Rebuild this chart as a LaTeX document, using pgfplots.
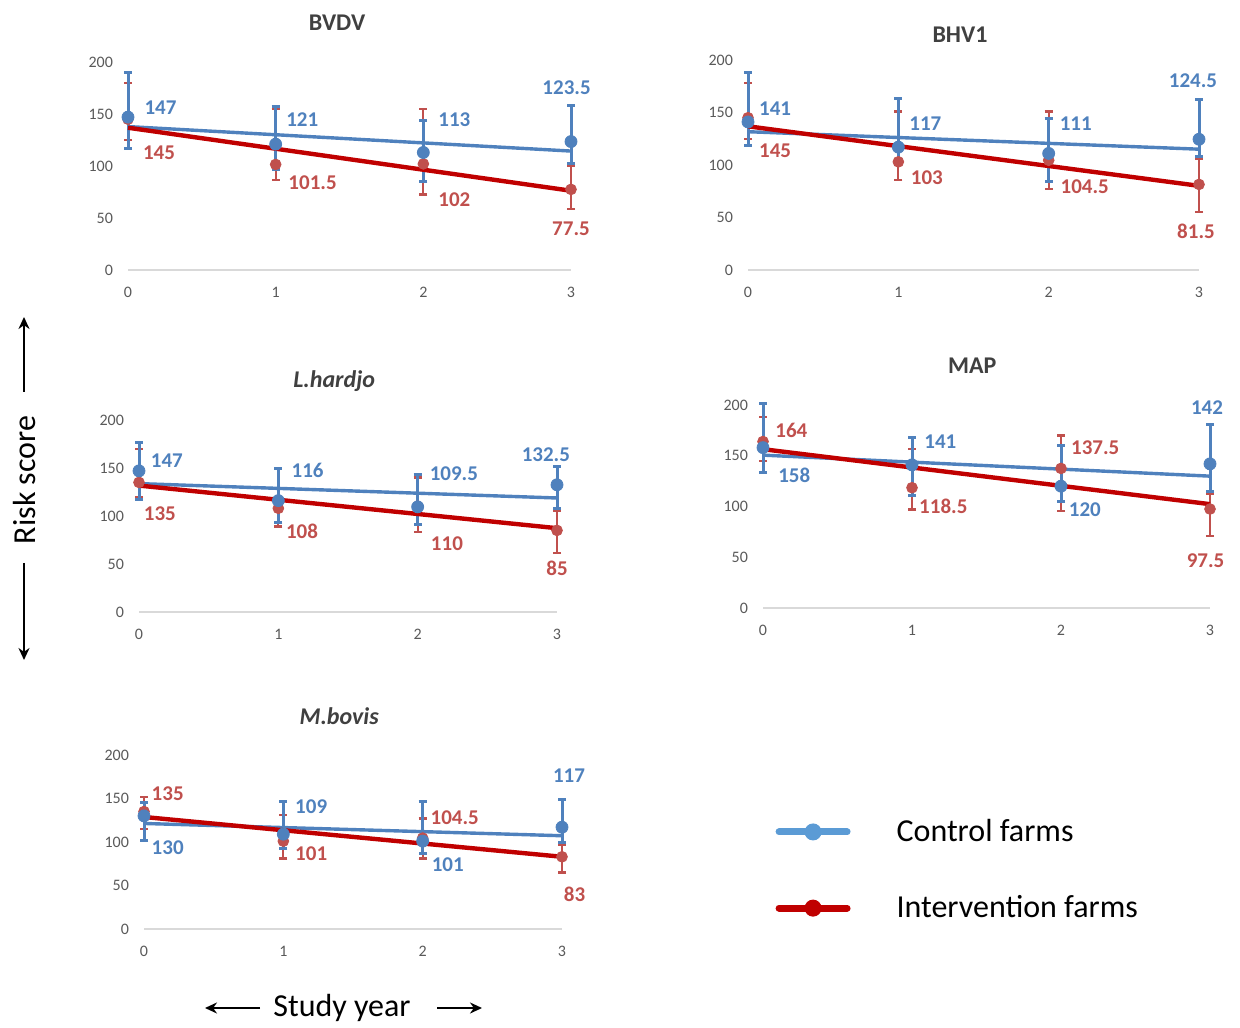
\documentclass[border=0pt]{standalone}
\usepackage{fontspec}
\setmainfont{Carlito}
\usepackage{pgfplots}
\usepackage{pgfplotstable}
\usetikzlibrary{arrows.meta}
\pgfplotsset{compat=1.18}
\definecolor{cblue}{HTML}{4F81BD}
\definecolor{cred}{HTML}{C0504D}
\definecolor{tred}{HTML}{C00000}
\definecolor{lblue}{HTML}{5B9BD5}
\definecolor{tgray}{HTML}{404040}
\definecolor{kgray}{HTML}{595959}
\definecolor{agray}{HTML}{D9D9D9}

\tikzset{
 vb/.style={font=\fontsize{10.5}{12}\selectfont\bfseries, text=cblue},
 vr/.style={font=\fontsize{10.5}{12}\selectfont\bfseries, text=cred},
}
\pgfplotsset{
 panel/.style={
  scale only axis, xmin=0, xmax=3, ymin=0, ymax=200, clip=false,
  axis x line=bottom, axis y line=left,
  x axis line style={agray, line width=0.8pt, -},
  y axis line style={draw=none},
  xtick={0,1,2,3}, ytick={0,50,...,200},
  major tick length=0pt,
  tick label style={font=\fontsize{8}{9}\selectfont, text=kgray},
  /pgf/number format/assume math mode=true,
  xticklabel style={yshift=-5pt},
  yticklabel style={xshift=-4pt},
  every axis title shift=0pt,
  title style={font=\fontsize{12}{14}\selectfont\bfseries, text=tgray, anchor=center},
 },
 ctrl/.style={cblue, only marks, mark=*, mark size=3pt, mark options={fill=cblue, draw=cblue, line width=0.4pt},
   error bars/.cd, y dir=both, y explicit,
   error bar style={line width=1.5pt, cblue},
   error mark options={rotate=90, mark size=2pt, line width=1.5pt, cblue},
   /pgfplots/.cd},
 intv/.style={cred, only marks, mark=*, mark size=2.7pt, mark options={fill=cred, draw=cred, line width=0.4pt},
   error bars/.cd, y dir=both, y explicit,
   error bar style={line width=1.1pt, cred},
   error mark options={rotate=90, mark size=2pt, line width=1.1pt, cred},
   /pgfplots/.cd},
 ctrend/.style={cblue, line width=1.7pt, no marks},
 itrend/.style={tred, line width=2.2pt, no marks},
}

% x  y  error-plus  error-minus
\pgfplotstableread{
x y ep em
0 147 43 30
1 121 36 24
2 113 30.5 27.5
3 123.5 34.5 21
}\bvdvC
\pgfplotstableread{
x y ep em
0 145 35 20
1 101.5 53.5 15
2 102 53 29.5
3 77.5 22.5 19
}\bvdvI
\pgfplotstableread{
x y ep em
0 141 47 22
1 117 46.5 12
2 111 33.5 27
3 124.5 38 16.5
}\bhvC
\pgfplotstableread{
x y ep em
0 145 33 20
1 103 48 17
2 104.5 46.5 27.5
3 81.5 24.5 26
}\bhvI
\pgfplotstableread{
x y ep em
0 147 29.5 30
1 116 33 23
2 109.5 33.5 18.5
3 132.5 19.5 24.5
}\lhC
\pgfplotstableread{
x y ep em
0 135 34.5 15
1 108 41 19
2 110 30 27
3 85 20 23.5
}\lhI
\pgfplotstableread{
x y ep em
0 158 43 25
1 141 27 30.5
2 120 40 15.5
3 142 39 27
}\mapC
\pgfplotstableread{
x y ep em
0 164 24 19
1 118.5 38 21.5
2 137.5 32.5 42
3 97.5 14.5 26.5
}\mapI
\pgfplotstableread{
x y ep em
0 130 15 28
1 109 37 16
2 101 45 14
3 117 32 18
}\mbC
\pgfplotstableread{
x y ep em
0 135 17 20
1 101 30 20
2 104.5 22.5 23.5
3 83 13.5 18
}\mbI

\newcommand{\series}[2]{%
  \addplot[forget plot, intv] table[x=x, y=y, y error plus=ep, y error minus=em]{#2};
  \addplot[forget plot, ctrl] table[x=x, y=y, y error plus=ep, y error minus=em]{#1};
  \addplot[forget plot, ctrend] table[x=x, y={create col/linear regression={y=y}}]{#1};
  \addplot[forget plot, itrend] table[x=x, y={create col/linear regression={y=y}}]{#2};
}

\begin{document}
\begin{tikzpicture}
\path[use as bounding box] (0pt,0pt) rectangle (620pt,513.5pt);

% BVDV
\begin{axis}[panel, at={(64pt,378.5pt)}, anchor=south west, width=221.5pt, height=104pt,
  title={BVDV}, title style={at={(0.472,1.19)}}]
\series{\bvdvC}{\bvdvI}
\node[vb] at (axis cs:0.22,156) {147};
\node[vr] at (axis cs:0.21,113) {145};
\node[vb] at (axis cs:1.18,145) {121};
\node[vr] at (axis cs:1.25,84) {101.5};
\node[vb] at (axis cs:2.21,145) {113};
\node[vr] at (axis cs:2.21,68) {102};
\node[vb] at (axis cs:2.97,175) {123.5};
\node[vr] at (axis cs:3.0,40) {77.5};
\end{axis}

% BHV1
\begin{axis}[panel, at={(374pt,378.5pt)}, anchor=south west, width=225.5pt, height=105pt,
  title={BHV1}, title style={at={(0.47,1.12)}}]
\series{\bhvC}{\bhvI}
\node[vb] at (axis cs:0.18,154) {141};
\node[vr] at (axis cs:0.18,114) {145};
\node[vb] at (axis cs:1.18,139) {117};
\node[vr] at (axis cs:1.19,88) {103};
\node[vb] at (axis cs:2.18,139) {111};
\node[vr] at (axis cs:2.24,79) {104.5};
\node[vb] at (axis cs:2.96,180) {124.5};
\node[vr] at (axis cs:2.98,37) {81.5};
\end{axis}

% L.hardjo
\begin{axis}[panel, at={(69.5pt,207.5pt)}, anchor=south west, width=209pt, height=96pt,
  title={\textit{L.hardjo}}, title style={at={(0.467,1.203)}}]
\series{\lhC}{\lhI}
\node[vb] at (axis cs:0.2,158) {147};
\node[vr] at (axis cs:0.15,102) {135};
\node[vb] at (axis cs:1.21,147) {116};
\node[vr] at (axis cs:1.17,84) {108};
\node[vb] at (axis cs:2.26,144) {109.5};
\node[vr] at (axis cs:2.21,71) {110};
\node[vb] at (axis cs:2.92,163.5) {132.5};
\node[vr] at (axis cs:3.0,46) {85};
\end{axis}

% MAP
\begin{axis}[panel, at={(381.5pt,209.5pt)}, anchor=south west, width=223.5pt, height=101.5pt,
  title={MAP}, title style={at={(0.468,1.192)}}]
\series{\mapC}{\mapI}
\node[vr] at (axis cs:0.19,175) {164};
\node[vb] at (axis cs:0.21,131) {158};
\node[vb] at (axis cs:1.19,163.5) {141};
\node[vr] at (axis cs:1.21,100.5) {118.5};
\node[vr] at (axis cs:2.23,157.5) {137.5};
\node[vb] at (axis cs:2.16,96.5) {120};
\node[vb] at (axis cs:2.98,197) {142};
\node[vr] at (axis cs:2.97,47) {97.5};
\end{axis}

% M.bovis (with legend)
\begin{axis}[panel, at={(72pt,49pt)}, anchor=south west, width=209pt, height=87pt,
  title={\textit{M.bovis}}, title style={at={(0.467,1.224)}},
  legend style={at={(1.51,0.339)}, anchor=west, draw=none, fill=none, inner sep=0pt,
    font=\fontsize{16}{18}\selectfont, row sep=25.5pt,
    nodes={inner sep=0pt, text=black},
    /tikz/every odd column/.append style={column sep=23pt}},
  legend cell align=left,
  legend image code/.code={\draw[#1, mark repeat=2, mark phase=2] plot coordinates {(0pt,0pt) (17pt,0pt) (34pt,0pt)};}]
\addlegendimage{lblue, line width=3.5pt, line cap=round, mark=*, mark size=4pt, mark options={line width=0.5pt, fill=lblue}}
\addlegendentry{Control farms}
\addlegendimage{tred, line width=3.5pt, line cap=round, mark=*, mark size=4pt, mark options={line width=0.5pt, fill=tred}}
\addlegendentry{Intervention farms}
\series{\mbC}{\mbI}
\node[vr] at (axis cs:0.17,155) {135};
\node[vb] at (axis cs:0.17,94) {130};
\node[vb] at (axis cs:1.2,141) {109};
\node[vr] at (axis cs:1.2,86) {101};
\node[vr] at (axis cs:2.23,127.5) {104.5};
\node[vb] at (axis cs:2.18,73.5) {101};
\node[vb] at (axis cs:3.05,176) {117};
\node[vr] at (axis cs:3.09,40) {83};
\end{axis}

% Risk score label with arrows
\node[rotate=90, font=\fontsize{16}{18}\selectfont] at (12.5pt,273.5pt) {Risk score};
\draw[line width=1.3pt, -{Stealth[length=6pt,width=5.5pt]}] (12pt,317.5pt) -- (12pt,355pt);
\draw[line width=1.3pt, -{Stealth[length=6pt,width=5.5pt]}] (12pt,232pt) -- (12pt,183.5pt);

% Study year label with arrows
\node[font=\fontsize{16}{18}\selectfont] at (171pt,9.5pt) {Study year};
\draw[line width=1.3pt, -{Stealth[length=6pt,width=5.5pt]}] (130pt,9.5pt) -- (102.5pt,9.5pt);
\draw[line width=1.3pt, -{Stealth[length=6pt,width=5.5pt]}] (218.5pt,9.5pt) -- (241pt,9.5pt);
\end{tikzpicture}
\end{document}
